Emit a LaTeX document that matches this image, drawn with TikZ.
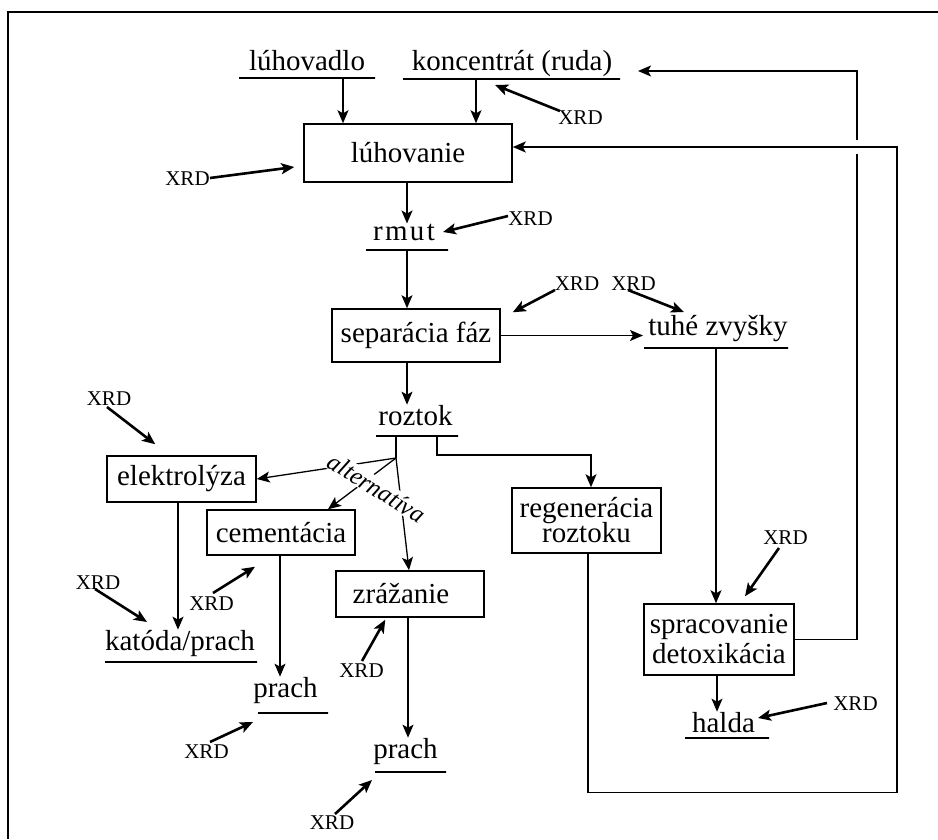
\documentclass[tikz,border=0pt]{standalone}
\usepackage{fontspec}
\setmainfont{Liberation Serif}
\usetikzlibrary{arrows.meta}
\begin{document}
\begin{tikzpicture}[x=1pt,y=-1pt,
  lbl/.style={font=\fontsize{29}{29}\selectfont, inner sep=0pt, anchor=base},
  box/.style={draw, line width=1.5pt, font=\fontsize{29}{29}\selectfont, inner sep=0pt, align=center},
  bar/.style={draw, line width=2pt, inner sep=0pt, minimum height=0pt},
  xrd/.style={font=\fontsize{21}{21}\selectfont, inner sep=0pt, text height=14pt, text depth=0pt},
  conn/.style={line width=1.3pt, -{Stealth[length=13pt,width=11pt,inset=3pt]}},
  xarr/.style={line width=2.6pt, -{Stealth[length=13pt,width=11pt,inset=3pt]}},
  plain/.style={line width=1.3pt}]
\useasboundingbox (0,0) rectangle (938,839);
\draw[line width=1.5pt] (938,12) -- (8,12) -- (8,839);

% labels and boxes
\node[lbl] (lv) at (307,70) {lúhovadlo};
\node[bar, minimum width=136] (lvu) at (307,78) {};
\node[lbl] (kr) at (512,70) {koncentrát (ruda)};
\node[bar, minimum width=217] (kru) at (511.5,79) {};
\node[box, minimum width=208, minimum height=58] (lh) at (408,153) {lúhovanie};
\node[lbl] (rm) at (404,240) {r\kern2.3pt m\kern2.3pt u\kern2.3pt t};
\node[bar, minimum width=82] (rmu) at (407,250) {};
\node[box, minimum width=168, minimum height=53] (sep) at (416,335.5) {separácia fáz};
\node[lbl] (tz) at (718,335) {tuhé zvyšky};
\node[bar, minimum width=144] (tzu) at (716,348) {};
\node[lbl] (rz) at (415.5,425) {roztok};
\node[bar, minimum width=82] (rzu) at (417,436) {};
\coordinate (J) at (396,458);
\node[box, minimum width=149, minimum height=46] (el) at (181.5,479) {elektrolýza};
\node[box, minimum width=148, minimum height=45] (cm) at (281,532.5) {cementácia};
\node[box, minimum width=148, minimum height=46] (zr) at (410,594) {\hspace*{-18pt}zrážanie};
\node[box, minimum width=149, minimum height=65] (rg) at (586.5,520.5) {regenerácia\\[-4pt]roztoku};
\node[box, minimum width=150, minimum height=71] (sp) at (719,639.5) {spracovanie\\[1pt]detoxikácia};
\node[lbl] (kt) at (180,650) {katóda/prach};
\node[bar, minimum width=152] (ktu) at (181,662) {};
\node[lbl] (p1) at (285.5,697) {prach};
\node[bar, minimum width=70] (p1u) at (293,713) {};
\node[lbl] (p2) at (405.5,758) {prach};
\node[bar, minimum width=71] (p2u) at (410.5,772) {};
\node[lbl] (hd) at (723.5,732) {halda};
\node[bar, minimum width=84] (hdu) at (727,738) {};

% XRD labels
\node[xrd] (x1) at (187.5,178) {XRD};
\node[xrd] (x2) at (580.5,117) {XRD};
\node[xrd] (x3) at (530.5,218) {XRD};
\node[xrd] (x4) at (577,283) {XRD};
\node[xrd] (x5) at (633.5,283) {XRD};
\node[xrd] (x6) at (109,398) {XRD};
\node[xrd] (x7) at (98,582) {XRD};
\node[xrd] (x8) at (211.5,603) {XRD};
\node[xrd] (x9) at (206.5,751) {XRD};
\node[xrd] (x10) at (361.5,670) {XRD};
\node[xrd] (x11) at (332,822) {XRD};
\node[xrd] (x12) at (785.5,537) {XRD};
\node[xrd] (x13) at (855.5,703) {XRD};

% main connectors
\draw[conn] ([xshift=36pt]lvu.center) -- ([xshift=-65pt]lh.north);
\draw[conn] ([xshift=-35.5pt]kru.center) -- ([xshift=68pt]lh.north);
\draw[conn] ([xshift=-1pt]lh.south) -- ([xshift=-1pt]lh.south |- rm.north);
\draw[conn] (rmu.center) -- (rmu.center |- sep.north);
\draw[conn] ([xshift=-9pt]sep.south) -- ([xshift=-9pt]sep.south |- rz.north);
\draw[conn] (sep.east) -- (sep.east -| tzu.west);
\draw[conn] (tzu.center) -- (tzu.center |- sp.north);
\draw[plain] (rzu.center -| J) -- (J);
\draw[conn] (J) -- (el.east);
\draw[conn] (J) -- ([xshift=47pt]cm.north);
\draw[conn] (J) -- ([xshift=-1pt]zr.north);
\draw[conn] ([xshift=20pt]rzu.center) -- ++(0,19) -| ([xshift=4.5pt]rg.north);
\draw[conn] ([xshift=-3.5pt]el.south) -- ([xshift=-3.5pt]el.south |- kt.north);
\draw[conn] ([xshift=-1pt]cm.south) -- ([xshift=-1pt]cm.south |- p1.north);
\draw[conn] ([xshift=-2pt]zr.south) -- ([xshift=-2pt]zr.south |- p2.north);
\draw[conn] ([xshift=-2pt]sp.south) -- ([xshift=-2pt]sp.south |- hd.north);

% return loops
\coordinate (cA) at (857,71);
\coordinate (kin) at (638,71);
\draw[conn] (sp.east) -| (cA) -- (kin);
\fill[white] (852,140) rectangle (862,154);
\coordinate (cB) at (897,147);
\draw[conn] ([xshift=1.5pt]rg.south) -- ++(0,239) -| (cB) -- ([yshift=6pt]lh.east);

% alternativa label over the branching lines
\node[font=\itshape\fontsize{25}{25}\selectfont, rotate=-32, fill=white, inner sep=1pt] (alt) at (377,488) {alternatíva};

% XRD arrows
\draw[xarr] ([shift={(22.5,0)}]x1.center) -- ([shift={(-9,14)}]lh.west);
\draw[xarr] ([shift={(-20.5,-6)}]x2.center) -- ([shift={(-16.5,6)}]kru.center);
\draw[xarr] ([shift={(-22.5,-2)}]x3.center) -- ([shift={(39,-8)}]rm.base);
\draw[xarr] ([shift={(-22,7)}]x4.center) -- ([shift={(12,4)}]sep.north east);
\draw[xarr] ([shift={(-5.5,7)}]x5.center) -- ([shift={(-34,-23)}]tz.base);
\draw[xarr] ([shift={(-2,9)}]x6.center) -- ([shift={(49,-11)}]el.north west);
\draw[xarr] ([shift={(-3,7)}]x7.center) -- ([shift={(-33,-28)}]kt.base);
\draw[xarr] ([shift={(1.5,-10)}]x8.center) -- ([shift={(-26,11)}]cm.south);
\draw[xarr] ([shift={(3.5,-9)}]x9.center) -- ([shift={(-4,9)}]p1u.west);
\draw[xarr] ([shift={(0.5,-9)}]x10.center) -- ([shift={(50,2)}]zr.south west);
\draw[xarr] ([shift={(3,-8)}]x11.center) -- ([shift={(-2,8)}]p2u.west);
\draw[xarr] ([shift={(-6.5,11)}]x12.center) -- ([shift={(26,-7)}]sp.north);
\draw[xarr] ([shift={(-28.5,0)}]x13.center) -- ([shift={(34.5,-14)}]hd.base);
\end{tikzpicture}
\end{document}
